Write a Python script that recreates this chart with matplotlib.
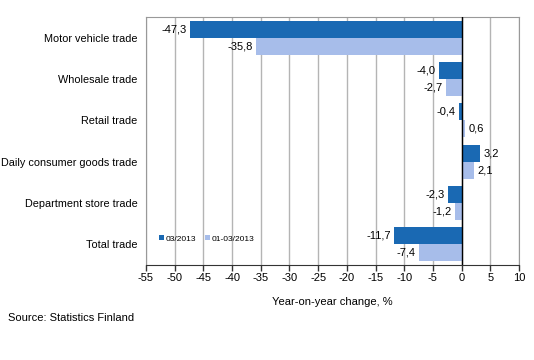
import matplotlib
matplotlib.use('Agg')
import matplotlib.pyplot as plt

categories = ['Motor vehicle trade', 'Wholesale trade', 'Retail trade',
              'Daily consumer goods trade', 'Department store trade', 'Total trade']
month = [-47.3, -4.0, -0.4, 3.2, -2.3, -11.7]
cumul = [-35.8, -2.7, 0.6, 2.1, -1.2, -7.4]
series_names = ['03/2013', '01-03/2013']
xticks = list(range(-55, 11, 5))

plt.rcParams['font.family'] = ['Liberation Sans', 'DejaVu Sans']

fig = plt.figure(figsize=(5.34, 3.6), dpi=100)
ax = fig.add_axes([146/534, 1-265/360, (519-146)/534, (265-17)/360])

dark = '#1a69b3'
light = '#a7bdea'
h = 0.41
pos = list(range(len(categories)))
ax.barh([p - h/2 for p in pos], month, height=h, color=dark, label=series_names[0], zorder=3)
ax.barh([p + h/2 for p in pos], cumul, height=h, color=light, label=series_names[1], zorder=3)

def fmt(v):
    return ('%.1f' % v).replace('.', ',')

fs = 8
for p, v in zip(pos, month):
    off = -0.6 if v < 0 else 0.6
    ax.text(v + off, p - h/2, fmt(v), ha='right' if v < 0 else 'left', va='center', fontsize=fs)
for p, v in zip(pos, cumul):
    off = -0.6 if v < 0 else 0.6
    ax.text(v + off, p + h/2, fmt(v), ha='right' if v < 0 else 'left', va='center', fontsize=fs)

ax.set_xlim(-55, 10)
ax.set_ylim(len(categories) - 0.5, -0.5)
ax.set_xticks(xticks)
ax.set_xticklabels([str(t) for t in xticks], fontsize=fs)
ax.set_yticks(pos)
ax.set_yticklabels(categories, fontsize=7.8)
ax.tick_params(axis='y', length=0, pad=6)
ax.tick_params(axis='x', length=4, width=1, color='#333333', pad=2)
ax.grid(axis='x', color='#b4b4b4', linewidth=1, zorder=0)
ax.axvline(0, color='black', linewidth=1, zorder=4)
for s in ['top', 'right', 'left']:
    ax.spines[s].set_color('#999999')
ax.spines['bottom'].set_color('#333333')
ax.set_xlabel('Year-on-year change, %', fontsize=fs, labelpad=10)

ax.legend(loc='lower left', bbox_to_anchor=(0.015, 0.06), ncol=2, frameon=False,
          fontsize=6, handlelength=0.6, handleheight=0.6, handletextpad=0.2,
          columnspacing=1.0)

fig.text(8/534, 1-318/360, 'Source: Statistics Finland', fontsize=fs, va='center')

fig.savefig('out.png', dpi=100)
